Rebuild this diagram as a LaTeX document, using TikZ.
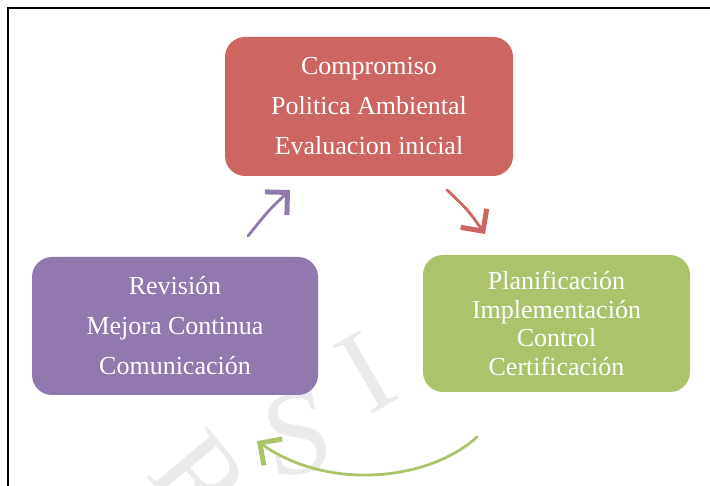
\documentclass[tikz,border=0pt]{standalone}
\usepackage{fontspec}
\setmainfont{Liberation Serif}
\usetikzlibrary{arrows.meta}
\definecolor{boxred}{HTML}{CD6660}
\definecolor{boxpurple}{HTML}{9179B0}
\definecolor{boxgreen}{HTML}{ABC46C}
\definecolor{wmgray}{HTML}{EBEBEB}
\begin{document}
\begin{tikzpicture}[x=1pt,y=-1pt,
  stage/.style={rectangle, rounded corners=20pt, draw=none, text=white,
    align=center, inner sep=0pt, font=\fontsize{26}{40}\selectfont},
  tightstage/.style={stage, font=\fontsize{26}{28.5}\selectfont},
  cyclearrow/.style={line width=2.8pt, line cap=round,
    -{Straight Barb[length=16pt, width=32pt, line width=5pt]}},
  wm/.style={text=wmgray, inner sep=0pt, font=\fontsize{120}{120}\selectfont}
]
\useasboundingbox (0,0) rectangle (710,486);
% watermark
\node[wm, rotate=-50] (wR) at (200,480) {R};
\node[wm, rotate=10] (wS) at (298,434) {S};
\node[wm, rotate=30] (wI) at (366,372) {I};
% frame
\draw[line width=2pt] (8.3,486) -- (8.3,8.3) -- (710,8.3);
% boxes
\node[stage, fill=boxred, minimum width=288pt, minimum height=139pt] (top) at (369,106.5)
  {Compromiso\\Politica Ambiental\\Evaluacion inicial};
\node[stage, fill=boxpurple, minimum width=286pt, minimum height=138pt] (left) at (175,326)
  {Revisión\\Mejora Continua\\Comunicación};
\node[tightstage, fill=boxgreen, minimum width=267pt, minimum height=137pt] (right) at (556.5,323.5)
  {Planificación\\Implementación\\Control\\Certificación};
% arrows
\coordinate (pa) at (248,236);
\coordinate (pb) at (290,190);
\coordinate (ra) at (447,190);
\coordinate (rb) at (485,234);
\coordinate (ga) at (477,437);
\coordinate (gb) at (257,441);
\draw[cyclearrow, boxpurple] (pa) .. controls (268,211) .. (pb);
\draw[cyclearrow, boxred] (ra) .. controls (468,210) .. (rb);
\draw[cyclearrow, boxgreen] (ga) .. controls (430,480) and (330,492) .. (gb);
\end{tikzpicture}
\end{document}
